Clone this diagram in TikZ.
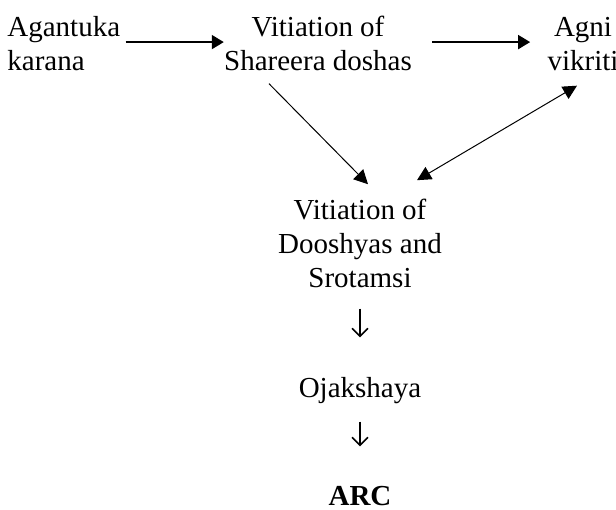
\documentclass[tikz,border=0pt]{standalone}
\usepackage{fontspec}
\setmainfont{Liberation Serif}
\usetikzlibrary{arrows.meta}
\tikzset{
    label/.style={inner sep=0pt, align=center, anchor=base, font=\fontsize{14.5}{17}\selectfont},
    flow/.style={line width=0.9pt, -{Triangle[length=6pt,width=7pt]}},
    link/.style={line width=0.5pt, -{Triangle[length=7pt,width=7pt]}},
    down/.style={line width=0.8pt, -{Straight Barb[length=4pt,width=8pt]}}
}
\begin{document}
\begin{tikzpicture}[x=0.5pt, y=-0.5pt]
    \useasboundingbox (0,0) rectangle (616,509);

    % Top row
    \node[label, align=left, anchor=base west] (agantuka) at (7,70) {Agantuka\\karana};
    \node[label] (shareera) at (318,70) {Vitiation of\\Shareera doshas};
    \node[label] (agni) at (583,70) {Agni\\vikriti};

    % Middle and bottom
    \node[label] (dooshya) at (360,287) {Vitiation of\\Dooshyas and\\Srotamsi};
    \node[label] (ojas) at (360,397) {Ojakshaya};
    \node[label, font=\fontsize{14.5}{17}\selectfont\bfseries] (arc) at (360,505) {ARC};

    % Arrows
    \draw[flow, shorten <=2.5pt] ([yshift=0.5pt]agantuka.east) -- ([yshift=0.5pt]agantuka.east -| shareera.west);
    \draw[flow, shorten <=10pt, shorten >=8.5pt] ([yshift=0.5pt]agantuka.east -| shareera.east) -- ([yshift=0.5pt]agantuka.east -| agni.west);
    \draw[link] ([xshift=-24.5pt, yshift=-6.5pt]shareera.south) -- ([xshift=4pt, yshift=7pt]dooshya.north);
    \draw[link, {Triangle[length=7pt,width=7pt]}-{Triangle[length=7pt,width=7pt]}] ([xshift=-3pt, yshift=-7.5pt]agni.south) -- ([xshift=28.5pt, yshift=9pt]dooshya.north);
    \draw[down, shorten <=10.5pt, shorten >=19.5pt] (dooshya.south) -- (ojas.north);
    \draw[down, shorten <=9pt, shorten >=19.5pt] (ojas.south) -- (arc.north);
\end{tikzpicture}
\end{document}
